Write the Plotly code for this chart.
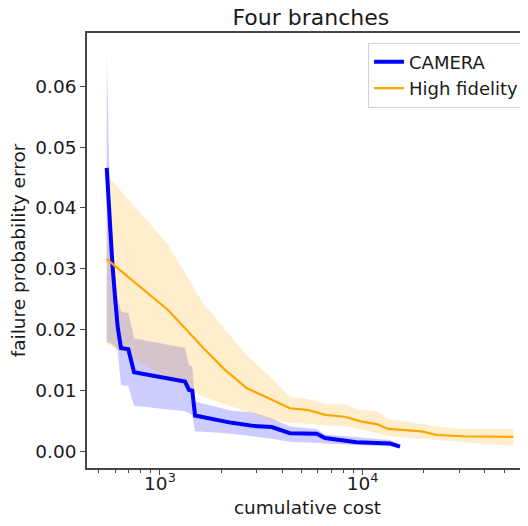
import plotly.graph_objects as go

# ---- data ----
camera_cost = [546, 567, 582, 600, 618, 642, 698, 745, 1328, 1390, 1443, 1489,
               2135, 2261, 2886, 3556, 4377, 5928, 6515, 7580, 9340, 13650, 15280]
camera_mean = [0.0466, 0.0364, 0.0309, 0.0254, 0.0205, 0.0170, 0.0168, 0.0130,
               0.0115, 0.0101, 0.0100, 0.0059, 0.0049, 0.0047, 0.0042, 0.0040,
               0.0030, 0.0029, 0.0022, 0.0019, 0.0015, 0.0013, 0.0008]
camera_upper = [0.0655, 0.0410, 0.0340, 0.0290, 0.0250, 0.0230, 0.0227, 0.0186,
                0.0170, 0.0142, 0.0139, 0.0082, 0.0068, 0.0067, 0.0064, 0.0054,
                0.0041, 0.0037, 0.0028, 0.0026, 0.0023, 0.0019, 0.0011]
camera_lower = [0.0180, 0.0178, 0.0175, 0.0172, 0.0165, 0.0109, 0.0107, 0.0075,
                0.0066, 0.0063, 0.0060, 0.0033, 0.0030, 0.0029, 0.0025, 0.0021,
                0.0016, 0.0014, 0.0013, 0.0012, 0.0010, 0.0008, 0.0006]

hf_cost = [546, 1099, 1636, 2093, 2677, 3489, 4378, 5390, 6516, 8178, 9886,
           11720, 13380, 19540, 23170, 31340, 55340]
hf_mean = [0.0316, 0.0232, 0.0170, 0.0134, 0.0104, 0.0086, 0.0071, 0.0068,
           0.0060, 0.0057, 0.0049, 0.0045, 0.0037, 0.0033, 0.0027, 0.0025, 0.0024]
hf_upper = [0.0455, 0.0339, 0.0243, 0.0200, 0.0158, 0.0123, 0.0090, 0.0086,
            0.0078, 0.0077, 0.0068, 0.0066, 0.0053, 0.0045, 0.0041, 0.0037, 0.0037]
hf_lower = [0.0177, 0.0120, 0.0090, 0.0078, 0.0065, 0.0052, 0.0047, 0.0045,
            0.0043, 0.0041, 0.0036, 0.0030, 0.0025, 0.0021, 0.0019, 0.0015, 0.0009]

x_tickvals = [1000, 10000]
x_ticktext = ["10<sup>3</sup>", "10<sup>4</sup>"]
x_minor = [500, 600, 700, 800, 900, 2000, 3000, 4000, 5000, 6000, 7000, 8000,
           9000, 20000, 30000, 40000, 50000, 60000]

FONT = "DejaVu Sans"
TXT = "#1a1a1a"
SPINE = "rgb(70,70,70)"

# page body has an 8px margin: figure is 520x518 so it lands at the same place
W, H = 520, 518

fig = go.Figure()

# bands
fig.add_trace(go.Scatter(
    x=camera_cost + camera_cost[::-1], y=camera_upper + camera_lower[::-1],
    fill="toself", fillcolor="rgba(0,0,255,0.2)", line=dict(width=0),
    mode="lines", showlegend=False, hoverinfo="skip"))
fig.add_trace(go.Scatter(
    x=hf_cost + hf_cost[::-1], y=hf_upper + hf_lower[::-1],
    fill="toself", fillcolor="rgba(255,165,0,0.2)", line=dict(width=0),
    mode="lines", showlegend=False, hoverinfo="skip"))

# lines
fig.add_trace(go.Scatter(x=camera_cost, y=camera_mean, mode="lines",
                         name="CAMERA", line=dict(color="#0000ff", width=4)))
fig.add_trace(go.Scatter(x=hf_cost, y=hf_mean, mode="lines",
                         name="High fidelity", line=dict(color="#ffa500", width=2.2)))

fig.update_layout(
    width=W, height=H,
    margin=dict(l=79, r=0, t=25, b=58),
    paper_bgcolor="white", plot_bgcolor="white",
    font=dict(family=FONT, size=18.5, color=TXT),
    title=dict(text="Four branches", font=dict(family=FONT, size=22, color=TXT),
               x=0.5075, xref="paper", xanchor="center",
               y=1 - 9.5 / H, yref="container", yanchor="middle"),
    legend=dict(x=0.991, y=0.978, xanchor="right", yanchor="top",
                bgcolor="rgba(255,255,255,0.8)", bordercolor="#d0d0d0",
                borderwidth=1, font=dict(family=FONT, size=18, color=TXT),
                itemwidth=30),
    xaxis=dict(type="log", range=[2.6399, 4.8155],
               tickmode="array", tickvals=x_tickvals, ticktext=x_ticktext,
               ticks="outside", ticklen=5, tickwidth=1, tickcolor=SPINE,
               ticklabelstandoff=-7,
               minor=dict(tickmode="array", tickvals=x_minor, ticks="outside",
                          ticklen=3, tickwidth=1, tickcolor=SPINE, showgrid=False),
               showgrid=False, zeroline=False,
               showline=True, linecolor=SPINE, linewidth=1.5, mirror=True,
               title=dict(text="cumulative cost", font=dict(family=FONT, size=18.5, color=TXT),
                          standoff=8)),
    yaxis=dict(range=[-0.00272, 0.06875], tick0=0, dtick=0.01, tickformat=".2f",
               ticks="outside", ticklen=5, tickwidth=1, tickcolor=SPINE,
               showgrid=False, zeroline=False,
               showline=True, linecolor=SPINE, linewidth=1.5,
               title=dict(text="failure probability error",
                          font=dict(family=FONT, size=18.5, color=TXT), standoff=6)),
)

fig.write_html("out.html")
